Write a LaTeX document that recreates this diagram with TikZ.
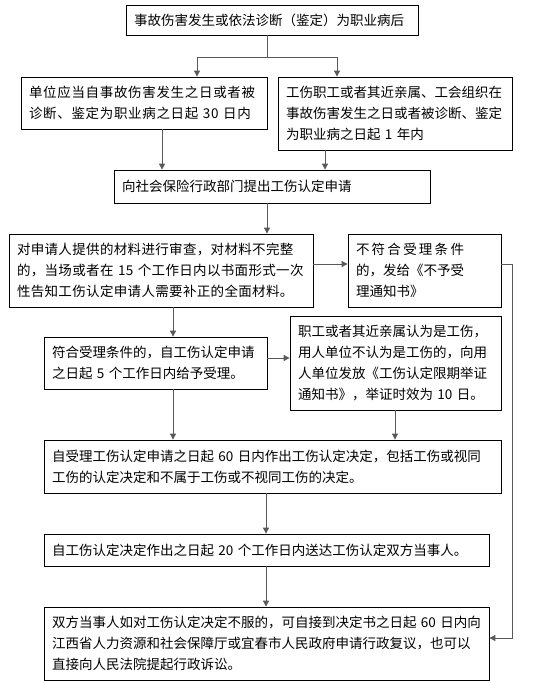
\documentclass[tikz,border=0pt]{standalone}
\usepackage{fontspec}
\setmainfont{Noto Sans CJK SC}
\newfontfamily\widecn[LetterSpace=5]{Noto Sans CJK SC}
\newfontfamily\midcn[LetterSpace=2.5]{Noto Sans CJK SC}
\usetikzlibrary{arrows.meta}
\begin{document}
\begin{tikzpicture}[x=1pt,y=-1pt,
        box/.style={draw,line width=0.8pt,inner xsep=8pt,inner ysep=0pt,align=left,
            font=\fontsize{13.5}{21}\selectfont},
        arr/.style={draw=black!65,line width=0.9pt,-{Triangle[width=6pt,length=6pt]}},
        conn/.style={draw=black!65,line width=0.9pt}]
                \useasboundingbox (0,0) rectangle (536,683);
                % boxes, by pixel centre
                \node[box,minimum width=292pt,minimum height=30pt,text width=276pt] (start) at (272,20)
                    {事故伤害发生或依法诊断（鉴定）为职业病后};
                \node[box,minimum width=246pt,minimum height=52pt,text width=230pt] (unit) at (144,103)
                    {\widecn 单位应当自事故伤害发生之日或者被\\诊断、鉴定为职业病之日起~30~日内};
                \node[box,minimum width=234pt,minimum height=73pt,text width=218pt] (worker) at (395,113.5)
                    {工伤职工或者其近亲属、工会组织在\\事故伤害发生之日或者被诊断、鉴定\\为职业病之日起~1~年内};
                \node[box,minimum width=316pt,minimum height=33pt,text width=300pt] (apply) at (272,186.5)
                    {向社会保险行政部门提出工伤认定申请};
                \node[box,minimum width=304pt,minimum height=73pt,text width=288pt,inner xsep=7pt] (review) at (161,270.5)
                    {\midcn 对申请人提供的材料进行审查，对材料不完整\\的，当场或者在~15~个工作日内以书面形式一次\\性告知工伤认定申请人需要补正的全面材料。};
                \node[box,minimum width=153pt,minimum height=73pt,text width=137pt] (reject) at (424.5,270.5)
                    {不\,符\,合\,受\,理\,条\,件\\的，发给《不予受\\理通知书》};
                \node[box,minimum width=223pt,minimum height=52pt,text width=207pt] (accept) at (155.5,363)
                    {符合受理条件的，自工伤认定申请\\之日起~5~个工作日内给予受理。};
                \node[box,minimum width=211pt,minimum height=94pt,text width=195pt] (proof) at (395.5,363)
                    {职工或者其近亲属认为是工伤，\\用人单位不认为是工伤的，向用\\人单位发放《工伤认定限期举证\\通知书》，举证时效为~10~日。};
                \node[box,minimum width=457pt,minimum height=53pt,text width=441pt] (decide) at (272.5,466.5)
                    {自受理工伤认定申请之日起~60~日内作出工伤认定决定，包括工伤或视同\\工伤的认定决定和不属于工伤或不视同工伤的决定。};
                \node[box,minimum width=445pt,minimum height=32pt,text width=429pt] (deliver) at (266.5,550)
                    {自工伤认定决定作出之日起~20~个工作日内送达工伤认定双方当事人。};
                \node[box,minimum width=445pt,minimum height=73pt,text width=429pt] (appeal) at (266.5,643.5)
                    {双方当事人如对工伤认定决定不服的，可自接到决定书之日起~60~日内向\\江西省人力资源和社会保障厅或宜春市人民政府申请行政复议，也可以\\直接向人民法院提起行政诉讼。};
                % connectors
                \coordinate (fork) at (267,57);
                \coordinate (side) at (512,264);
                \draw[conn] (start.south -| fork) -- (fork);
                \draw[arr] (fork) -| (unit.north -| 197,0);
                \draw[arr] (fork) -| (worker.north -| 337,0);
                \draw[arr] (unit.south -| 162,0) -- (apply.north -| 162,0);
                \draw[arr] (worker.south -| 325,0) -- (apply.north -| 325,0);
                \draw[arr] (apply.south -| 267,0) -- (review.north -| 267,0);
                \draw[arr] (review.east |- side) -- (reject.west |- side);
                \draw[arr] (reject.east |- side) -- (side) |- (appeal.east |- 0,638);
                \draw[arr] (review.south -| 173,0) -- (accept.north -| 173,0);
                \draw[arr] (accept.east |- 0,358) -- (proof.west |- 0,358);
                \draw[arr] (accept.south -| 173,0) -- (decide.north -| 173,0);
                \draw[arr] (proof.south -| 395,0) -- (decide.north -| 395,0);
                \foreach \a/\b in {decide/deliver,deliver/appeal}{
                    \draw[arr] (\a.south -| 266,0) -- (\b.north -| 266,0);
                }
            \end{tikzpicture}
\end{document}
